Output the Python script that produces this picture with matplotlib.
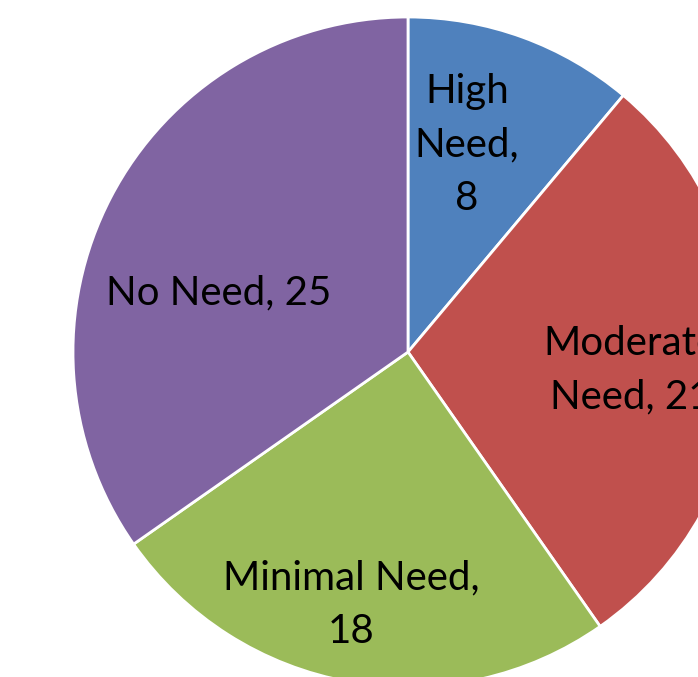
import matplotlib
matplotlib.use('Agg')
from matplotlib import pyplot as plt

categories = ['High Need', 'Moderate Need', 'Minimal Need', 'No Need']
values     = [8, 21, 18, 25]
colors     = ['#4F81BD', '#C0504D', '#9BBB59', '#8064A2']

# label text and where it sits (data coords, pie radius = 1)
labels     = ['High\nNeed,\n8', 'Moderate\nNeed, 21', 'Minimal Need,\n18', 'No Need, 25']
label_pos  = [(0.176, 0.618), (0.665, -0.055), (-0.170, -0.755), (-0.565, 0.176)]

W, H = 698, 677
cx, cy, r = 408, 352, 335   # pie centre and radius in pixels

figure = plt.figure(figsize = (W / 100, H / 100), dpi = 100)
ax = figure.add_axes([0, 0, 1, 1])

ax.pie(values, colors = colors, startangle = 90, counterclock = False, radius = 1,
       wedgeprops = dict(edgecolor = 'white', linewidth = 2))

for text, (x, y) in zip(labels, label_pos):
    ax.text(x, y, text, ha = 'center', va = 'center', fontsize = 29,
            family = ['Lato', 'DejaVu Sans'], color = 'black', linespacing = 1.55,
            clip_on = True)

ax.set_aspect('auto')
ax.set_xlim(-cx / r, (W - cx) / r)
ax.set_ylim(-(H - cy) / r, cy / r)
ax.axis('off')

plt.savefig('out.png', dpi = 100, facecolor = 'white')
